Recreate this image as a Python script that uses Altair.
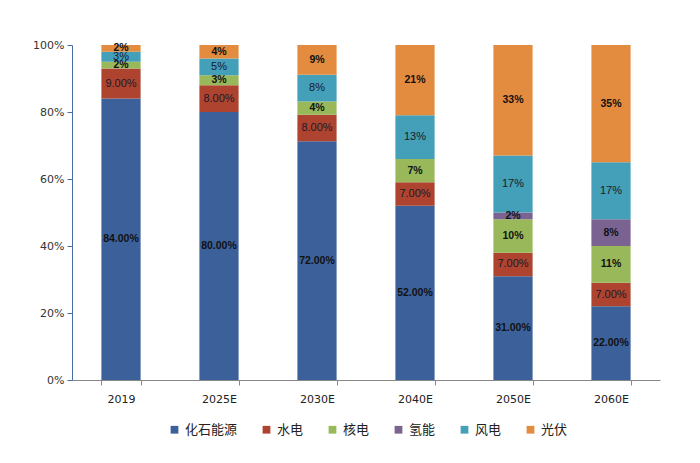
import altair as alt
import pandas as pd

years = ["2019", "2025E", "2030E", "2040E", "2050E", "2060E"]
sources = ["化石能源", "水电", "核电", "氢能", "风电", "光伏"]
colors = ["#3C619A", "#AE432F", "#99B85A", "#7A6391", "#449FB8", "#E38B3F"]

fossil = [84, 80, 72, 52, 31, 22]
hydro = [9, 8, 8, 7, 7, 7]
nuclear = [2, 3, 4, 7, 10, 11]
hydrogen = [0, 0, 0, 0, 2, 8]
wind = [3, 5, 8, 13, 17, 17]
solar = [2, 4, 9, 21, 33, 35]

series = [fossil, hydro, nuclear, hydrogen, wind, solar]
bold_sources = ["化石能源", "核电", "氢能", "光伏"]

rows = []
for si, (name, vals) in enumerate(zip(sources, series)):
    for yi, v in enumerate(vals):
        if v == 0:
            continue
        if si < 2:
            lab = f"{v:.2f}%"
        else:
            lab = f"{v}%"
        rows.append({"year": years[yi], "source": name, "order": si, "v": v,
                     "label": lab, "bold": name in bold_sources})
df = pd.DataFrame(rows)

base = alt.Chart(df).transform_stack(
    stack="v", groupby=["year"], as_=["y0", "y1"], offset="normalize",
    sort=[alt.SortField("order", order="ascending")]
).transform_calculate(mid="(datum.y0 + datum.y1) / 2")

x_enc = alt.X("year:N", sort=years, title=None,
              scale=alt.Scale(paddingInner=0.6, paddingOuter=0.3),
              axis=alt.Axis(labelAngle=0, tickBand="extent", labelFont="DejaVu Sans",
                            labelFontSize=11, labelColor="#222", labelPadding=8,
                            domainColor="#888", tickColor="#888", tickSize=5))

bars = base.mark_bar().encode(
    x=x_enc,
    y=alt.Y("y0:Q", title=None, scale=alt.Scale(domain=[0, 1]),
            axis=alt.Axis(format=".0%", values=[0, 0.2, 0.4, 0.6, 0.8, 1.0],
                          grid=False, labelFont="DejaVu Sans", labelFontSize=11,
                          labelColor="#333", domainColor="#4A6BA5", tickColor="#4A6BA5",
                          tickSize=5, labelPadding=3)),
    y2="y1:Q",
    color=alt.Color("source:N", sort=sources,
                    scale=alt.Scale(domain=sources, range=colors),
                    legend=alt.Legend(title=None, orient="none", direction="horizontal",
                                      legendX=96, legendY=378, columns=6,
                                      symbolType="square", symbolSize=60,
                                      symbolStrokeWidth=0, labelFont="Noto Sans CJK SC",
                                      labelFontSize=13, labelColor="#222",
                                      columnPadding=22, labelOffset=4)),
)

txt_norm = base.transform_filter("!datum.bold").mark_text(
    font="Liberation Sans", fontSize=11, color="#1a1a2a"
).encode(x=alt.X("year:N", sort=years), y="mid:Q", text="label:N")

txt_bold = base.transform_filter("datum.bold").mark_text(
    font="Liberation Sans", fontSize=10.5, fontWeight="bold", color="#111"
).encode(x=alt.X("year:N", sort=years), y="mid:Q", text="label:N")

chart = alt.layer(bars, txt_norm, txt_bold).properties(
    width=588, height=335,
    background="white",
    autosize=alt.AutoSizeParams(type="none"),
    padding={"left": 64, "top": 37, "right": 32, "bottom": 75},
).configure_view(stroke=None)

chart.save("out.html", embed_options={"renderer": "svg", "actions": False})
